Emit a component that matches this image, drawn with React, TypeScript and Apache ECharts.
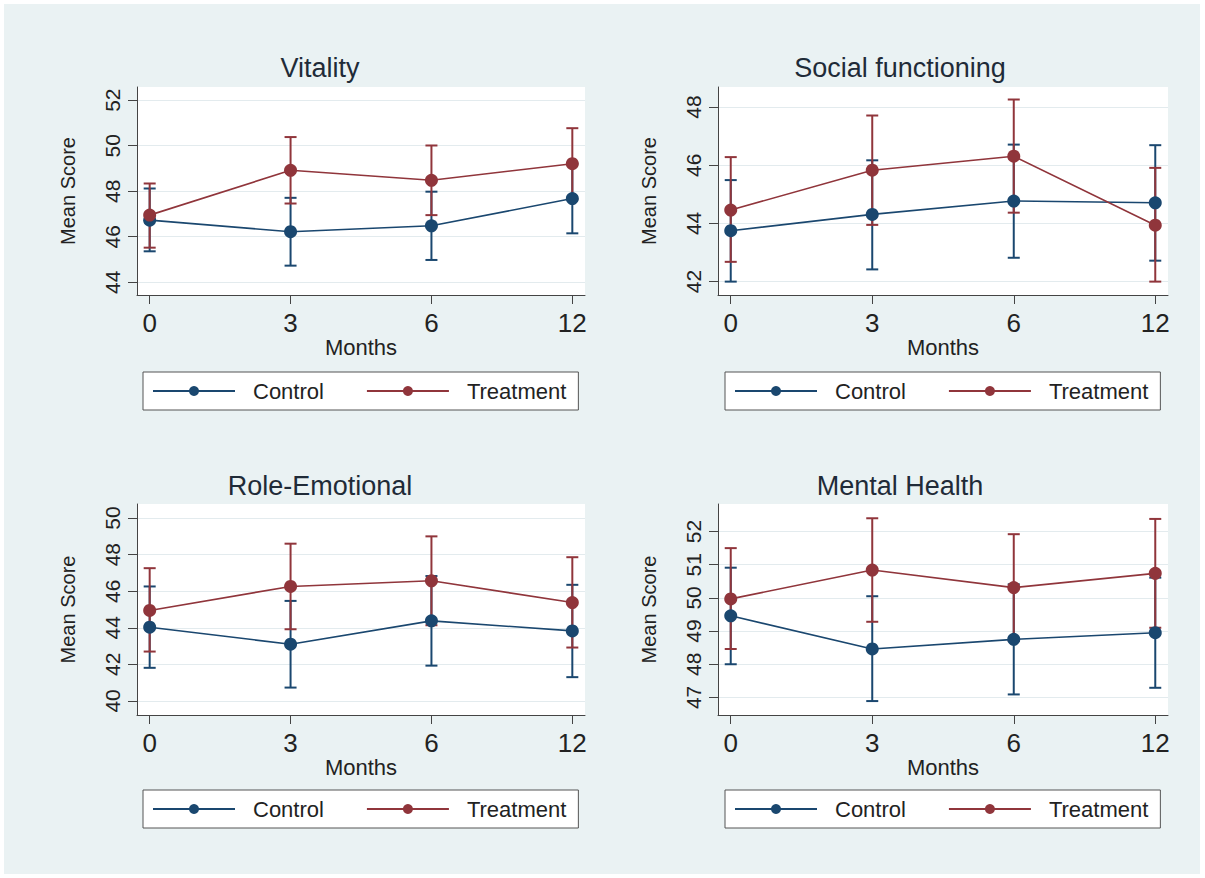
import React, { useEffect, useRef } from "react";
import * as echarts from "echarts";

// ---------- data ----------
const months = ["0", "3", "6", "12"];
const groups = ["Control", "Treatment"];
const panelTitles = ["Vitality", "Social functioning", "Role-Emotional", "Mental Health"];

// Vitality
const vitalityControl = [46.73, 46.22, 46.48, 47.68];
const vitalityControlLow = [45.36, 44.73, 44.98, 46.15];
const vitalityControlHigh = [48.12, 47.71, 47.98, 49.21];
const vitalityTreatment = [46.95, 48.92, 48.48, 49.21];
const vitalityTreatmentLow = [45.52, 47.46, 46.95, 47.65];
const vitalityTreatmentHigh = [48.34, 50.38, 50.01, 50.77];
const vitalityTicks = [44, 46, 48, 50, 52];

// Social functioning
const socialControl = [43.75, 44.31, 44.77, 44.71];
const socialControlLow = [42.0, 42.42, 42.82, 42.72];
const socialControlHigh = [45.49, 46.17, 46.71, 46.69];
const socialTreatment = [44.46, 45.83, 46.31, 43.94];
const socialTreatmentLow = [42.68, 43.95, 44.37, 42.0];
const socialTreatmentHigh = [46.28, 47.71, 48.26, 45.91];
const socialTicks = [42, 44, 46, 48];

// Role-Emotional
const roleControl = [44.03, 43.1, 44.38, 43.83];
const roleControlLow = [41.81, 40.73, 41.93, 41.3];
const roleControlHigh = [46.26, 45.47, 46.83, 46.35];
const roleTreatment = [44.95, 46.26, 46.57, 45.38];
const roleTreatmentLow = [42.7, 43.92, 44.14, 42.92];
const roleTreatmentHigh = [47.26, 48.6, 49.0, 47.86];
const roleTicks = [40, 42, 44, 46, 48, 50];

// Mental Health
const mentalControl = [49.46, 48.46, 48.75, 48.95];
const mentalControlLow = [48.0, 46.89, 47.09, 47.29];
const mentalControlHigh = [50.91, 50.05, 50.41, 50.61];
const mentalTreatment = [49.97, 50.84, 50.31, 50.74];
const mentalTreatmentLow = [48.46, 49.28, 48.7, 49.1];
const mentalTreatmentHigh = [51.5, 52.4, 51.92, 52.38];
const mentalTicks = [47, 48, 49, 50, 51, 52];

// axis extents
const yRanges = [
  [43.44, 52.58],
  [41.54, 48.69],
  [39.23, 50.77],
  [46.47, 52.83],
];

// ---------- layout / style ----------
const gridLeft = [137, 718, 137, 718];
const gridTop = [87, 87, 504, 504];
const gridWidth = [448, 450, 448, 450];
const gridHeight = [208, 208, 211, 211];
const titleX = [320, 900, 320, 900];
const titleY = [68, 68, 486, 486];
const legendLeft = [143, 725, 143, 725];
const legendTop = [372, 372, 790, 790];

const colors = ["#1a476f", "#90353b"];
const FONT = "Liberation Sans, Arial, sans-serif";
const TEXT = "#222";
const AXIS = "#444";

export default function App() {
  const ref = useRef<HTMLDivElement>(null);

  useEffect(() => {
    document.body.style.margin = "0";
    if (!ref.current) return;
    const chart = echarts.init(ref.current, undefined, { renderer: "svg" });

    const panels = [
      {
        means: [vitalityControl, vitalityTreatment],
        lows: [vitalityControlLow, vitalityTreatmentLow],
        highs: [vitalityControlHigh, vitalityTreatmentHigh],
        ticks: vitalityTicks,
      },
      {
        means: [socialControl, socialTreatment],
        lows: [socialControlLow, socialTreatmentLow],
        highs: [socialControlHigh, socialTreatmentHigh],
        ticks: socialTicks,
      },
      {
        means: [roleControl, roleTreatment],
        lows: [roleControlLow, roleTreatmentLow],
        highs: [roleControlHigh, roleTreatmentHigh],
        ticks: roleTicks,
      },
      {
        means: [mentalControl, mentalTreatment],
        lows: [mentalControlLow, mentalTreatmentLow],
        highs: [mentalControlHigh, mentalTreatmentHigh],
        ticks: mentalTicks,
      },
    ];

    const xIdx = months.map((_, i) => i);

    const series: any[] = [];
    panels.forEach((p, pi) => {
      groups.forEach((g, gi) => {
        series.push({
          type: "custom",
          name: g + " CI " + pi,
          xAxisIndex: pi,
          yAxisIndex: pi,
          z: 2,
          encode: { x: 0, y: [1, 2] },
          data: xIdx.map((x, i) => [x, p.lows[gi][i], p.highs[gi][i]]),
          renderItem: (params: any, api: any) => {
            const x = api.value(0);
            const lo = api.coord([x, api.value(1)]);
            const hi = api.coord([x, api.value(2)]);
            const w = 6;
            const style = { stroke: colors[gi], lineWidth: 2 };
            return {
              type: "group",
              children: [
                { type: "line", shape: { x1: lo[0], y1: lo[1], x2: hi[0], y2: hi[1] }, style },
                { type: "line", shape: { x1: lo[0] - w, y1: lo[1], x2: lo[0] + w, y2: lo[1] }, style },
                { type: "line", shape: { x1: hi[0] - w, y1: hi[1], x2: hi[0] + w, y2: hi[1] }, style },
              ],
            };
          },
        });
      });
    });
    panels.forEach((p, pi) => {
      groups.forEach((g, gi) => {
        series.push({
          type: "line",
          name: g,
          xAxisIndex: pi,
          yAxisIndex: pi,
          z: 3,
          data: xIdx.map((x, i) => [x, p.means[gi][i]]),
          symbol: "circle",
          symbolSize: 13,
          color: colors[gi],
          itemStyle: { color: colors[gi] },
          lineStyle: { color: colors[gi], width: 1.6 },
        });
      });
    });

    const option: any = {
      animation: false,
      backgroundColor: "#ffffff",
      textStyle: { fontFamily: FONT },
      graphic: [
        {
          type: "rect",
          z: -10,
          silent: true,
          shape: { x: 4, y: 4, width: 1196, height: 870 },
          style: { fill: "#eaf2f3" },
        },
        ...panelTitles.map((t, i) => ({
          type: "text",
          x: titleX[i],
          y: titleY[i],
          style: {
            text: t,
            font: `27px ${FONT}`,
            fill: "#1f2b38",
            textAlign: "center",
            textVerticalAlign: "middle",
          },
        })),
      ],
      grid: panels.map((_, i) => ({
        left: gridLeft[i],
        top: gridTop[i],
        width: gridWidth[i],
        height: gridHeight[i],
        show: true,
        backgroundColor: "#ffffff",
        borderWidth: 0,
        containLabel: false,
      })),
      xAxis: panels.map((_, i) => ({
        type: "value",
        gridIndex: i,
        min: -0.09,
        max: 3.09,
        axisLine: { show: true, onZero: false, lineStyle: { color: AXIS, width: 1 } },
        axisTick: { show: true, customValues: xIdx, length: 9, lineStyle: { color: AXIS } },
        axisLabel: {
          customValues: xIdx,
          formatter: (v: number) => months[Math.round(v)] ?? "",
          fontSize: 26,
          margin: 15,
          color: TEXT,
          fontFamily: FONT,
        },
        splitLine: { show: false },
        name: "Months",
        nameLocation: "middle",
        nameGap: 40,
        nameTextStyle: { fontSize: 22, color: TEXT, fontFamily: FONT },
      })),
      yAxis: panels.map((p, i) => ({
        type: "value",
        gridIndex: i,
        min: yRanges[i][0],
        max: yRanges[i][1],
        axisLine: { show: true, onZero: false, lineStyle: { color: AXIS, width: 1 } },
        axisTick: { show: true, customValues: p.ticks, length: 9, lineStyle: { color: AXIS } },
        axisLabel: {
          customValues: p.ticks,
          rotate: 90,
          margin: 14,
          fontSize: 21,
          color: TEXT,
          fontFamily: FONT,
        },
        splitLine: { show: true, lineStyle: { color: "#e3ebee", width: 1 } },
        name: "Mean Score",
        nameLocation: "middle",
        nameRotate: 90,
        nameGap: 59,
        nameTextStyle: { fontSize: 20, color: TEXT, fontFamily: FONT },
      })),
      legend: panels.map((_, i) => ({
        left: legendLeft[i],
        top: legendTop[i],
        orient: "horizontal",
        data: groups,
        selectedMode: false,
        itemWidth: 82,
        itemHeight: 12.5,
        itemGap: 42,
        padding: [8, 12, 8, 9],
        backgroundColor: "#ffffff",
        borderColor: "#555",
        borderWidth: 1,
        textStyle: { fontSize: 22, color: TEXT, fontFamily: FONT, padding: [0, 0, 0, 13] },
      })),
      series,
    };

    chart.setOption(option);
    return () => chart.dispose();
  }, []);

  return <div ref={ref} style={{ width: 1205, height: 878 }} />;
}
